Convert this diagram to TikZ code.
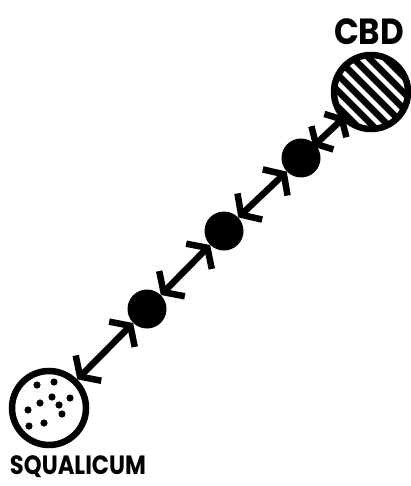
\documentclass[tikz,border=0pt]{standalone}
\usepackage{fontspec}
\setmainfont{Poppins}
\usetikzlibrary{arrows.meta}
\tikzset{
  >={Straight Barb[length=12pt,width=36pt,line width=6.5pt]},
  stop/.style   ={circle, draw, line width=6.5pt, minimum size=74pt, inner sep=0pt},
  hub/.style    ={circle, fill, minimum size=39pt, inner sep=0pt},
  link/.style   ={<->, line width=6.5pt},
  slink/.style  ={{Straight Barb[length=9pt,width=32pt,line width=6.5pt]}-{Straight Barb[length=9pt,width=32pt,line width=6.5pt]},
                  line width=6.5pt, shorten <=-3pt, shorten >=-4pt},
  place/.style  ={inner sep=0pt},
}
\newcommand{\tag}[3]{\resizebox*{#1}{#2}{\bfseries #3}}

\begin{document}
\begin{tikzpicture}[x=1pt, y=-1pt]
  \useasboundingbox (0,0) rectangle (410,486);

  \node[stop] (cbd) at (371,92) {};
  \node[stop] (sq)  at (49,408) {};
  \node[hub] (d1) at (301,158) {};
  \node[hub] (d2) at (224,231) {};
  \node[hub] (d3) at (147,309) {};

  % stripes inside the city centre
  \begin{scope}
    \clip (371,92) circle (35pt);
    \foreach \s in {-72,-64,...,72}
      \draw[line width=6.5pt] (331+\s,52-\s) -- (411+\s,132-\s);
  \end{scope}

  % speckles inside squalicum
  \foreach \p in {(37,385),(54,382),(52,397),(70,398),(40,403),(59,405),
                  (28,410),(62,414),(44,423),(29,426)}
    \fill \p circle (3.6pt);

  \node[place] (cbdlbl) at (369,32) {\tag{70pt}{26pt}{CBD}};
  \node[place] (sqlbl) at (78,467) {\tag{136pt}{22pt}{SQUALICUM}};

  \draw[link] (sq) -- (d3);
  \draw[link] (d3) -- (d2);
  \draw[link] (d2) -- (d1);
  \draw[slink] (d1) -- (cbd);
\end{tikzpicture}
\end{document}
